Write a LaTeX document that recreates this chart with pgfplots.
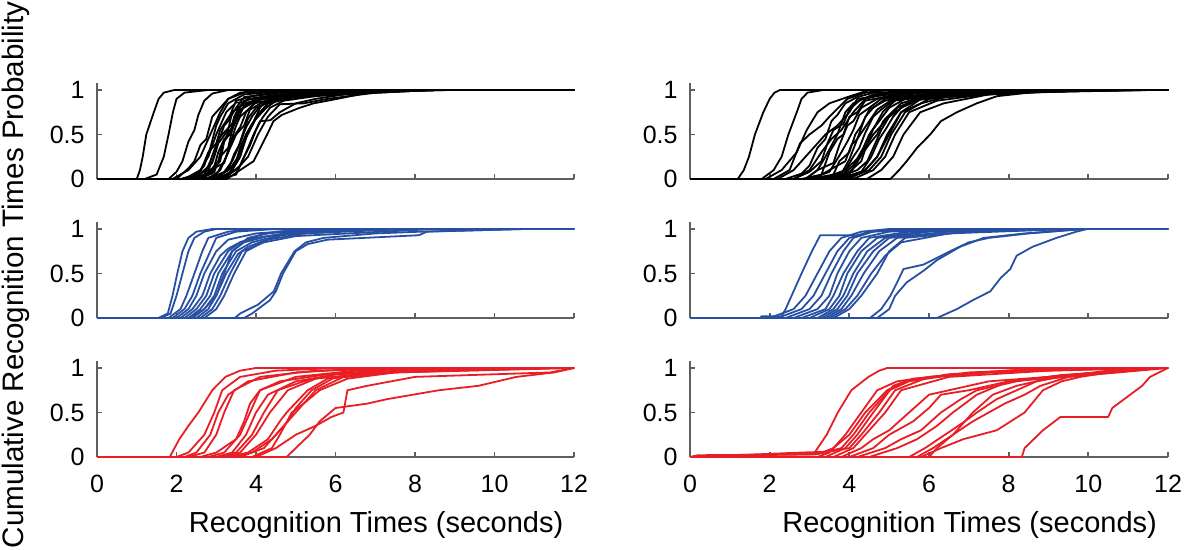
\documentclass[border=0pt]{standalone}
\usepackage{fontspec}
\setmainfont{Liberation Sans}
\setsansfont{Liberation Sans}
\usepackage{pgfplots}
\pgfplotsset{compat=1.18}

\definecolor{axgray}{RGB}{95,95,95}
\definecolor{cblue}{RGB}{40,80,162}
\definecolor{cred}{RGB}{232,30,36}

\tikzset{
  cb/.style={draw=black,line width=0.9pt,line join=round},
  cl/.style={draw=cblue,line width=0.9pt,line join=round},
  cr/.style={draw=cred,line width=0.9pt,line join=round},
}
\pgfplotsset{
  panel/.style={
    scale only axis, height=48.06pt, anchor=south west,
    xmin=0, xmax=12, ymin=0, ymax=1.08,
    axis x line=bottom, axis y line=left,
    axis line style={-, draw=axgray, line width=0.9pt},
    xtick={0,2,...,12}, ytick={0,0.5,1},
    tick align=inside, major tick length=2.6pt,
    tick style={draw=axgray, line width=0.9pt},
    ticklabel style={font=\fontsize{12.5}{15}\selectfont, text=black},
    /pgf/number format/assume math mode=true,
    xticklabel shift=5.5pt, yticklabel shift=2.7pt,
    clip=false,
  },
  lft/.style={panel, width=238.5pt},
  rgt/.style={panel, width=239pt},
  noxl/.style={xticklabels={}},
  xl/.style={xlabel={Recognition Times (seconds)},
    xlabel style={at={(axis description cs:0.585,0)}, anchor=center, yshift=-34pt,
      font=\fontsize{14.5}{17}\selectfont}},
}

\begin{document}
\begin{tikzpicture}
\useasboundingbox (0,0) rectangle (596.5pt,275pt);

% top left: black
\begin{axis}[lft, noxl, at={(48.5pt,185.5pt)}]
\addplot[cb] coordinates {(0,0)(1.0,0)(1.08,.1)(1.15,.25)(1.24,.5)(1.43,.75)(1.55,.9)(1.68,.97)(1.95,1)(12,1)};
\addplot[cb] coordinates {(0,0)(1.2,0)(1.5,.05)(1.68,.25)(1.8,.5)(1.91,.75)(2.0,.9)(2.2,.97)(2.8,1)(12,1)};
\addplot[cb] coordinates {(0,0)(1.8,0)(2.0,.08)(2.15,.2)(2.3,.42)(2.45,.55)(2.55,.72)(2.7,.88)(2.9,.96)(3.3,1)(12,1)};
\addplot[cb] coordinates {(0,0)(2.0,0)(2.3,.12)(2.45,.2)(2.6,.38)(2.75,.45)(2.9,.7)(3.1,.8)(3.3,.9)(3.6,.97)(4.2,1)(12,1)};
\addplot[cb] coordinates {(0,0)(2.1,0)(2.5,.05)(2.7,.15)(2.85,.35)(3.0,.6)(3.1,.7)(3.3,.85)(3.7,.95)(5.0,1)(12,1)};
\addplot[cb] coordinates {(0,0)(2.2,0)(2.6,.08)(2.8,.3)(3.0,.4)(3.1,.55)(3.35,.72)(3.5,.88)(3.9,.93)(4.6,.97)(5.5,1)(12,1)};
\addplot[cb] coordinates {(0,0)(2.3,0)(2.7,.05)(2.85,.2)(3.05,.45)(3.15,.5)(3.4,.62)(3.55,.8)(3.8,.86)(4.4,.92)(6.0,1)(12,1)};
\addplot[cb] coordinates {(0,0)(2.3,0)(2.8,.1)(2.95,.25)(3.05,.4)(3.3,.55)(3.4,.75)(3.6,.82)(3.8,.9)(4.9,.97)(6.5,1)(12,1)};
\addplot[cb] coordinates {(0,0)(2.4,0)(2.9,.06)(3.05,.3)(3.2,.45)(3.35,.5)(3.45,.7)(3.7,.88)(4.4,.94)(7.0,1)(12,1)};
\addplot[cb] coordinates {(0,0)(2.5,0)(2.65,.08)(2.9,.18)(3.0,.35)(3.2,.6)(3.3,.65)(3.5,.8)(3.7,.92)(4.5,.97)(5.8,1)(12,1)};
\addplot[cb] coordinates {(0,0)(2.5,0)(2.8,.05)(3.1,.2)(3.2,.42)(3.4,.55)(3.5,.72)(3.8,.85)(4.2,.9)(5.3,.97)(6.2,1)(12,1)};
\addplot[cb] coordinates {(0,0)(2.6,0)(2.9,.12)(3.05,.2)(3.15,.38)(3.3,.52)(3.55,.68)(3.7,.82)(4.0,.9)(4.8,.96)(7.4,1)(12,1)};
\addplot[cb] coordinates {(0,0)(2.6,0)(2.95,.08)(3.1,.25)(3.3,.35)(3.4,.55)(3.6,.78)(3.9,.85)(4.3,.93)(5.5,.97)(7.8,1)(12,1)};
\addplot[cb] coordinates {(0,0)(2.7,0)(2.85,.1)(3.2,.18)(3.35,.4)(3.5,.6)(3.6,.7)(3.85,.8)(4.1,.9)(5.2,.97)(6.8,1)(12,1)};
\addplot[cb] coordinates {(0,0)(2.7,0)(3.0,.05)(3.2,.2)(3.4,.4)(3.5,.5)(3.7,.6)(3.85,.78)(4.2,.87)(4.8,.93)(8.2,1)(12,1)};
\addplot[cb] coordinates {(0,0)(2.8,0)(3.1,.1)(3.3,.3)(3.4,.45)(3.6,.58)(3.75,.75)(3.95,.85)(4.5,.9)(5.5,.97)(8.6,1)(12,1)};
\addplot[cb] coordinates {(0,0)(2.8,0)(3.2,.08)(3.4,.2)(3.55,.35)(3.7,.55)(3.8,.68)(4.0,.8)(4.6,.91)(7.2,1)(12,1)};
\addplot[cb] coordinates {(0,0)(2.9,0)(3.3,.1)(3.45,.28)(3.6,.4)(3.75,.58)(3.9,.7)(4.1,.82)(4.5,.9)(5.6,.97)(8.9,1)(12,1)};
\addplot[cb] coordinates {(0,0)(3.0,0)(3.3,.05)(3.5,.2)(3.6,.35)(3.75,.5)(3.95,.65)(4.1,.8)(4.3,.9)(5.3,.97)(6.6,1)(12,1)};
\addplot[cb] coordinates {(0,0)(3.0,0)(3.35,.12)(3.55,.25)(3.7,.42)(3.85,.55)(4.0,.68)(4.2,.78)(4.5,.88)(5.0,.95)(7.6,1)(12,1)};
\addplot[cb] coordinates {(0,0)(3.1,0)(3.4,.1)(3.6,.25)(3.75,.5)(3.9,.62)(4.05,.7)(4.3,.82)(4.6,.9)(6.0,1)(12,1)};
\addplot[cb] coordinates {(0,0)(3.1,0)(3.5,.05)(3.65,.2)(3.85,.38)(4.0,.55)(4.15,.68)(4.35,.8)(4.7,.88)(5.8,.95)(8.0,1)(12,1)};
\addplot[cb] coordinates {(0,0)(3.2,0)(3.4,.1)(3.6,.25)(3.78,.5)(4.0,.7)(4.3,.85)(5.0,.92)(8.4,1)(12,1)};
\addplot[cb] coordinates {(0,0)(3.2,0)(3.6,.15)(3.8,.35)(3.94,.5)(4.1,.65)(4.36,.66)(4.6,.75)(5.0,.85)(5.5,.9)(6.5,.97)(8.8,1)(12,1)};
\addplot[cb] coordinates {(0,0)(3.27,0)(3.6,.1)(3.94,.2)(4.28,.5)(4.44,.65)(4.65,.72)(5.1,.8)(5.45,.85)(6.04,.9)(6.7,.96)(7.55,1)(12,1)};
\addplot[cb] coordinates {(0,0)(3.0,0)(3.5,.1)(3.8,.25)(4.05,.5)(4.3,.7)(4.6,.84)(5.2,.85)(5.8,.9)(7.0,.97)(8.5,1)(12,1)};
\addplot[cb] coordinates {(0,0)(2.2,0)(2.6,.1)(2.8,.25)(3.0,.5)(3.25,.75)(3.5,.86)(4.2,.86)(4.7,.93)(6.8,1)(12,1)};
\addplot[cb] coordinates {(0,0)(1.9,0)(2.3,.1)(2.6,.25)(2.85,.5)(3.1,.75)(3.3,.9)(3.7,.97)(4.8,1)(12,1)};
\end{axis}

% top right: black
\begin{axis}[rgt, noxl, at={(345pt,185.5pt)}]
\addplot[cb] coordinates {(0,0)(1.2,0)(1.35,.1)(1.48,.25)(1.63,.5)(1.84,.75)(2.0,.9)(2.12,.97)(2.26,1)(12,1)};
\addplot[cb] coordinates {(0,0)(1.8,0)(2.1,.1)(2.3,.25)(2.47,.5)(2.68,.75)(2.8,.9)(2.95,.97)(3.35,1)(12,1)};
\addplot[cb] coordinates {(0,0)(1.9,0)(2.3,.1)(2.68,.3)(2.93,.55)(3.2,.75)(3.5,.85)(3.95,.92)(4.5,1)(12,1)};
\addplot[cb] coordinates {(0,0)(2.1,0)(2.5,.1)(2.76,.4)(3.0,.5)(3.3,.6)(3.5,.7)(3.95,.9)(4.4,.97)(5.0,1)(12,1)};
\addplot[cb] coordinates {(0,0)(2.4,0)(2.8,.06)(3.0,.15)(3.2,.35)(3.4,.45)(3.55,.65)(3.7,.72)(3.9,.85)(4.2,.92)(4.6,.97)(6.5,1)(12,1)};
\addplot[cb] coordinates {(0,0)(2.6,0)(3.0,.08)(3.3,.2)(3.45,.4)(3.6,.55)(3.85,.62)(4.0,.78)(4.3,.9)(5.0,.97)(7.0,1)(12,1)};
\addplot[cb] coordinates {(0,0)(2.8,0)(3.3,.05)(3.5,.3)(3.7,.45)(3.85,.5)(4.0,.7)(4.2,.75)(4.4,.88)(5.3,.96)(7.5,1)(12,1)};
\addplot[cb] coordinates {(0,0)(2.9,0)(3.2,.1)(3.6,.18)(3.75,.38)(3.95,.6)(4.1,.65)(4.3,.8)(4.7,.9)(5.5,.97)(8.0,1)(12,1)};
\addplot[cb] coordinates {(0,0)(3.0,0)(3.5,.08)(3.8,.3)(3.95,.42)(4.1,.55)(4.25,.72)(4.5,.8)(4.8,.9)(5.8,.97)(8.5,1)(12,1)};
\addplot[cb] coordinates {(0,0)(3.0,0)(3.6,.05)(3.75,.2)(4.0,.3)(4.15,.5)(4.3,.6)(4.5,.78)(4.9,.88)(6.0,.96)(9.0,1)(12,1)};
\addplot[cb] coordinates {(0,0)(3.1,0)(3.5,.1)(3.9,.2)(4.05,.38)(4.2,.45)(4.4,.7)(4.6,.8)(4.9,.9)(6.2,.97)(9.5,1)(12,1)};
\addplot[cb] coordinates {(0,0)(3.2,0)(3.8,.06)(4.0,.22)(4.2,.45)(4.35,.55)(4.5,.65)(4.7,.78)(5.1,.9)(6.5,.97)(10.0,1)(12,1)};
\addplot[cb] coordinates {(0,0)(3.3,0)(3.9,.1)(4.1,.25)(4.25,.35)(4.4,.52)(4.6,.7)(4.8,.78)(5.1,.88)(6.8,.97)(10.5,1)(12,1)};
\addplot[cb] coordinates {(0,0)(3.3,0)(3.8,.04)(4.1,.15)(4.35,.35)(4.5,.5)(4.65,.6)(4.85,.76)(5.2,.9)(7.0,.97)(11.0,1)(12,1)};
\addplot[cb] coordinates {(0,0)(3.4,0)(4.0,.08)(4.3,.2)(4.45,.4)(4.6,.56)(4.8,.68)(5.0,.8)(5.4,.9)(7.2,.97)(11.5,1)(12,1)};
\addplot[cb] coordinates {(0,0)(3.5,0)(4.0,.05)(4.35,.3)(4.55,.42)(4.7,.5)(4.85,.65)(5.0,.72)(5.3,.85)(5.8,.92)(7.5,.97)(10.8,1)(12,1)};
\addplot[cb] coordinates {(0,0)(3.6,0)(4.2,.1)(4.45,.2)(4.6,.35)(4.8,.55)(5.0,.7)(5.2,.8)(5.6,.88)(6.8,.95)(9.8,1)(12,1)};
\addplot[cb] coordinates {(0,0)(3.7,0)(4.3,.08)(4.55,.25)(4.75,.45)(4.9,.55)(5.1,.7)(5.3,.8)(5.7,.9)(7.8,.97)(11.2,1)(12,1)};
\addplot[cb] coordinates {(0,0)(3.8,0)(4.4,.1)(4.7,.25)(4.95,.5)(5.3,.75)(5.8,.9)(8.0,.97)(11.6,1)(12,1)};
\addplot[cb] coordinates {(0,0)(3.9,0)(4.5,.1)(4.8,.25)(5.05,.5)(5.4,.75)(6.0,.9)(7.6,.97)(10.4,1)(12,1)};
\addplot[cb] coordinates {(0,0)(4.1,0)(4.6,.1)(4.9,.25)(5.15,.5)(5.5,.75)(6.2,.88)(7.4,.95)(9.4,1)(12,1)};
\addplot[cb] coordinates {(0,0)(4.44,0)(4.8,.1)(5.1,.25)(5.36,.5)(5.78,.75)(6.37,.85)(7.5,.95)(8.8,1)(12,1)};
\addplot[cb] coordinates {(0,0)(5.03,0)(5.25,.1)(5.44,.2)(5.7,.35)(6.03,.5)(6.3,.65)(6.7,.75)(7.2,.85)(7.7,.93)(8.7,.98)(9.2,.99)(11.6,1)(12,1)};
\addplot[cb] coordinates {(0,0)(2.6,0)(3.0,.1)(3.3,.3)(3.55,.45)(3.8,.55)(4.1,.75)(4.4,.9)(5.0,.97)(6.0,1)(12,1)};
\addplot[cb] coordinates {(0,0)(2.9,0)(3.2,.1)(3.4,.25)(3.7,.5)(3.9,.75)(4.1,.85)(4.6,.95)(5.5,1)(12,1)};
\addplot[cb] coordinates {(0,0)(3.5,0)(3.9,.1)(4.25,.25)(4.6,.5)(5.0,.7)(5.3,.8)(5.8,.9)(7.2,.97)(9.6,1)(12,1)};
\addplot[cb] coordinates {(0,0)(4.0,0)(4.4,.1)(4.7,.25)(5.0,.5)(5.3,.75)(5.8,.85)(6.5,.93)(10.2,1)(12,1)};
\addplot[cb] coordinates {(0,0)(2.2,0)(2.6,.1)(2.9,.25)(3.4,.5)(3.7,.6)(4.0,.75)(4.2,.9)(5.8,1)(12,1)};
\end{axis}

% middle left: blue
\begin{axis}[lft, noxl, at={(48.5pt,116pt)}]
\addplot[cl] coordinates {(0,0)(1.54,0)(1.78,.05)(1.9,.25)(2.02,.5)(2.15,.75)(2.3,.9)(2.5,.97)(2.9,1)(12,1)};
\addplot[cl] coordinates {(0,0)(1.6,0)(1.85,.05)(2.0,.25)(2.15,.5)(2.3,.75)(2.45,.9)(2.7,.97)(3.0,1)(12,1)};
\addplot[cl] coordinates {(0,0)(1.8,0)(2.1,.1)(2.25,.25)(2.45,.5)(2.65,.75)(2.8,.9)(3.3,.97)(4.0,1)(12,1)};
\addplot[cl] coordinates {(0,0)(1.9,0)(2.2,.1)(2.4,.25)(2.6,.5)(2.85,.75)(3.0,.9)(3.5,.97)(4.5,1)(12,1)};
\addplot[cl] coordinates {(0,0)(2.0,0)(2.3,.1)(2.5,.25)(2.7,.5)(3.0,.75)(3.3,.88)(4.0,.95)(5.5,1)(12,1)};
\addplot[cl] coordinates {(0,0)(2.1,0)(2.4,.1)(2.65,.25)(2.85,.5)(3.1,.7)(3.3,.78)(3.6,.85)(4.2,.95)(6.0,1)(12,1)};
\addplot[cl] coordinates {(0,0)(2.2,0)(2.5,.1)(2.75,.25)(2.95,.5)(3.3,.75)(3.6,.85)(4.0,.9)(5.0,.97)(7.5,1)(12,1)};
\addplot[cl] coordinates {(0,0)(2.3,0)(2.6,.1)(2.85,.25)(3.05,.5)(3.4,.75)(3.7,.85)(4.3,.92)(5.3,.97)(6.5,1)(12,1)};
\addplot[cl] coordinates {(0,0)(2.4,0)(2.7,.1)(2.95,.25)(3.15,.5)(3.5,.75)(3.9,.85)(4.6,.93)(7.0,1)(12,1)};
\addplot[cl] coordinates {(0,0)(2.5,0)(2.8,.1)(3.0,.25)(3.25,.5)(3.55,.72)(3.8,.8)(4.4,.9)(5.0,.97)(8.0,1)(12,1)};
\addplot[cl] coordinates {(0,0)(2.6,0)(2.9,.1)(3.1,.25)(3.35,.5)(3.65,.75)(4.2,.85)(5.0,.92)(8.5,1)(12,1)};
\addplot[cl] coordinates {(0,0)(2.7,0)(3.0,.1)(3.2,.25)(3.45,.5)(3.75,.75)(4.3,.88)(5.2,.95)(7.8,1)(12,1)};
\addplot[cl] coordinates {(0,0)(2.3,0)(2.7,.1)(3.0,.25)(3.2,.5)(3.4,.75)(3.8,.9)(4.5,.97)(5.5,1)(12,1)};
\addplot[cl] coordinates {(0,0)(3.47,0)(3.6,.05)(4.05,.15)(4.45,.3)(4.63,.5)(4.97,.75)(5.26,.85)(5.7,.9)(7.0,.95)(8.15,.97)(10.8,1)(12,1)};
\addplot[cl] coordinates {(0,0)(3.7,0)(3.9,.05)(4.35,.2)(4.5,.3)(4.68,.5)(5.0,.75)(5.3,.83)(5.8,.88)(8.1,.93)(8.3,.97)(10.7,1)(12,1)};
\end{axis}

% middle right: blue
\begin{axis}[rgt, noxl, at={(345pt,116pt)}]
\addplot[cl] coordinates {(0,0)(1.76,0)(1.8,.02)(2.3,.02)(2.4,.1)(2.6,.3)(2.8,.5)(3.06,.75)(3.27,.93)(4.27,.93)(4.5,.97)(5.2,1)(12,1)};
\addplot[cl] coordinates {(0,0)(2.0,0)(2.6,.1)(2.9,.25)(3.2,.5)(3.5,.75)(3.8,.9)(4.3,.97)(5.0,1)(12,1)};
\addplot[cl] coordinates {(0,0)(2.2,0)(2.8,.1)(3.1,.25)(3.4,.5)(3.7,.75)(4.0,.9)(4.5,.97)(5.6,1)(12,1)};
\addplot[cl] coordinates {(0,0)(2.4,0)(3.0,.1)(3.3,.25)(3.55,.5)(3.85,.75)(4.1,.9)(4.6,.97)(6.0,1)(12,1)};
\addplot[cl] coordinates {(0,0)(2.6,0)(3.2,.1)(3.5,.25)(3.7,.5)(4.0,.75)(4.3,.9)(5.0,.97)(6.5,1)(12,1)};
\addplot[cl] coordinates {(0,0)(2.8,0)(3.4,.1)(3.6,.25)(3.85,.5)(4.2,.75)(4.5,.9)(5.5,.97)(7.0,1)(12,1)};
\addplot[cl] coordinates {(0,0)(3.0,0)(3.5,.1)(3.75,.25)(3.95,.5)(4.3,.75)(4.7,.9)(5.8,.97)(7.5,1)(12,1)};
\addplot[cl] coordinates {(0,0)(3.2,0)(3.6,.1)(3.85,.25)(4.1,.5)(4.45,.75)(4.9,.9)(6.0,.97)(8.0,1)(12,1)};
\addplot[cl] coordinates {(0,0)(3.3,0)(3.7,.1)(3.95,.25)(4.2,.5)(4.6,.75)(5.0,.9)(6.5,.97)(8.5,1)(12,1)};
\addplot[cl] coordinates {(0,0)(3.4,0)(3.8,.1)(4.05,.25)(4.36,.5)(4.75,.75)(5.2,.9)(7.0,.97)(9.0,1)(12,1)};
\addplot[cl] coordinates {(0,0)(3.5,0)(3.9,.1)(4.2,.25)(4.55,.5)(4.9,.7)(5.3,.85)(6.5,.95)(9.5,1)(12,1)};
\addplot[cl] coordinates {(0,0)(3.6,0)(4.0,.1)(4.3,.25)(4.7,.5)(5.0,.75)(5.4,.9)(7.0,.97)(9.7,1)(12,1)};
\addplot[cl] coordinates {(0,0)(4.52,0)(4.8,.1)(5.03,.25)(5.2,.4)(5.36,.55)(5.86,.6)(6.53,.75)(7.0,.85)(7.5,.9)(8.5,.95)(9.9,1)(12,1)};
\addplot[cl] coordinates {(0,0)(4.7,0)(5.0,.1)(5.15,.25)(5.44,.4)(5.86,.53)(6.2,.65)(6.78,.8)(7.37,.9)(8.4,.95)(9.9,1)(12,1)};
\addplot[cl] coordinates {(0,0)(6.2,0)(6.7,.1)(7.1,.2)(7.54,.3)(7.8,.45)(8.04,.55)(8.2,.7)(8.6,.8)(9.2,.9)(9.7,.97)(9.97,1)(12,1)};
\end{axis}

% bottom left: red
\begin{axis}[lft, xl, at={(48.5pt,46.5pt)}]
\addplot[cr] coordinates {(0,0)(1.83,0)(1.95,.1)(2.07,.2)(2.3,.35)(2.55,.5)(2.9,.75)(3.23,.9)(3.6,.97)(4.0,1)(12,1)};
\addplot[cr] coordinates {(0,0)(2.0,0)(2.3,.05)(2.7,.25)(2.95,.5)(3.15,.75)(3.6,.9)(4.5,.97)(6.0,1)(12,1)};
\addplot[cr] coordinates {(0,0)(2.2,0)(2.5,.05)(2.85,.25)(3.05,.5)(3.3,.7)(3.8,.85)(5.0,.95)(7.0,1)(12,1)};
\addplot[cr] coordinates {(0,0)(2.3,0)(2.7,.05)(3.0,.25)(3.2,.5)(3.45,.75)(4.1,.9)(5.5,.97)(8.0,1)(12,1)};
\addplot[cr] coordinates {(0,0)(2.6,0)(3.0,.05)(3.5,.2)(3.7,.4)(3.85,.6)(4.1,.75)(5.0,.9)(6.5,.97)(9.0,1)(12,1)};
\addplot[cr] coordinates {(0,0)(2.8,0)(3.2,.05)(3.6,.25)(3.85,.5)(4.1,.75)(4.6,.85)(5.8,.93)(9.5,1)(12,1)};
\addplot[cr] coordinates {(0,0)(3.0,0)(3.4,.05)(3.75,.25)(4.0,.5)(4.3,.7)(5.0,.85)(6.3,.95)(10.0,1)(12,1)};
\addplot[cr] coordinates {(0,0)(3.0,0)(3.5,.05)(3.9,.25)(4.2,.5)(4.55,.75)(5.2,.85)(6.0,.93)(10.5,1)(12,1)};
\addplot[cr] coordinates {(0,0)(3.2,0)(3.6,.05)(4.0,.25)(4.35,.5)(4.8,.75)(5.5,.88)(7.0,.95)(11.0,1)(12,1)};
\addplot[cr] coordinates {(0,0)(3.3,0)(3.8,.05)(4.3,.2)(4.6,.4)(4.77,.5)(5.3,.75)(5.8,.88)(7.5,.95)(11.5,1)(12,1)};
\addplot[cr] coordinates {(0,0)(3.4,0)(3.9,.05)(4.4,.2)(4.8,.4)(5.0,.55)(5.4,.75)(6.0,.9)(8.0,.97)(11.8,1)(12,1)};
\addplot[cr] coordinates {(0,0)(3.6,0)(4.2,.1)(4.5,.25)(4.8,.4)(5.0,.5)(5.5,.75)(6.2,.9)(7.0,.95)(9.0,1)(12,1)};
\addplot[cr] coordinates {(0,0)(3.9,0)(4.4,.1)(4.6,.25)(4.9,.5)(5.2,.6)(5.6,.75)(6.3,.88)(7.5,.95)(12,1)};
\addplot[cr] coordinates {(0,0)(4.77,0)(5.0,.1)(5.35,.25)(5.6,.4)(6.0,.55)(6.8,.6)(7.3,.65)(8.6,.75)(9.6,.8)(10.55,.9)(11.5,.95)(12,1)};
\addplot[cr] coordinates {(0,0)(4.0,0)(4.5,.1)(5.0,.25)(5.5,.35)(5.9,.45)(6.2,.5)(6.3,.75)(6.8,.8)(8.0,.9)(11.4,.95)(12,1)};
\end{axis}

% bottom right: red
\begin{axis}[rgt, xl, at={(345pt,46.5pt)}]
\addplot[cr] coordinates {(0,0)(0.2,.02)(3.1,.03)(3.43,.25)(3.71,.5)(4.05,.75)(4.48,.9)(4.75,.97)(4.95,1)(12,1)};
\addplot[cr] coordinates {(0,0)(1.5,.02)(3.2,.03)(3.6,.1)(4.0,.25)(4.4,.5)(4.95,.75)(5.4,.85)(6.5,.93)(9.0,1)(12,1)};
\addplot[cr] coordinates {(0,0)(2.4,.03)(3.3,.04)(3.8,.1)(4.1,.25)(4.5,.5)(5.0,.75)(5.5,.85)(7.0,.95)(10.0,1)(12,1)};
\addplot[cr] coordinates {(0,0)(3.4,0)(3.9,.1)(4.2,.25)(4.6,.5)(5.1,.8)(5.6,.88)(7.5,.95)(11.0,1)(12,1)};
\addplot[cr] coordinates {(0,0)(2.8,.05)(3.5,.06)(4.0,.1)(4.3,.25)(4.75,.5)(5.15,.75)(6.0,.9)(8.0,.97)(11.5,1)(12,1)};
\addplot[cr] coordinates {(0,0)(3.6,0)(4.1,.1)(4.4,.25)(4.9,.5)(5.3,.75)(6.5,.9)(9.0,.97)(11.8,1)(12,1)};
\addplot[cr] coordinates {(0,0)(3.8,0)(4.3,.1)(4.6,.2)(5.0,.3)(5.5,.5)(6.0,.7)(6.5,.75)(7.5,.85)(9.0,.9)(11.5,1)(12,1)};
\addplot[cr] coordinates {(0,0)(4.0,0)(4.6,.1)(5.0,.25)(5.6,.4)(6.0,.55)(6.3,.7)(7.0,.75)(8.0,.85)(9.5,.9)(12,1)};
\addplot[cr] coordinates {(0,0)(4.2,0)(4.9,.1)(5.3,.2)(5.8,.3)(6.3,.5)(6.8,.65)(7.2,.75)(8.2,.85)(9.3,.92)(11.8,1)(12,1)};
\addplot[cr] coordinates {(0,0)(4.5,0)(5.2,.1)(5.7,.2)(6.2,.35)(6.6,.5)(7.2,.7)(8.0,.85)(9.0,.9)(11.5,1)(12,1)};
\addplot[cr] coordinates {(0,0)(5.5,0)(5.9,.1)(6.4,.25)(6.9,.4)(7.2,.5)(7.7,.65)(8.2,.75)(8.7,.85)(9.3,.9)(11.0,1)(12,1)};
\addplot[cr] coordinates {(0,0)(5.7,0)(6.1,.1)(6.6,.25)(7.1,.4)(7.5,.5)(7.9,.6)(8.4,.7)(8.8,.8)(9.5,.9)(10.5,.95)(11.6,1)(12,1)};
\addplot[cr] coordinates {(0,0)(5.8,0)(6.3,.1)(6.86,.2)(7.7,.3)(8.4,.5)(8.86,.75)(9.33,.85)(9.8,.9)(11.2,1)(12,1)};
\addplot[cr] coordinates {(0,0)(8.33,0)(8.4,.1)(8.86,.3)(9.3,.45)(10.5,.45)(10.6,.55)(11.05,.7)(11.35,.8)(11.55,.9)(12,1)};
\addplot[cr] coordinates {(0,0)(3.2,0)(3.5,.05)(3.9,.25)(4.3,.5)(4.7,.75)(5.2,.85)(6.0,.9)(7.5,.95)(10.5,1)(12,1)};
\addplot[cr] coordinates {(0,0)(6.0,0)(6.2,.1)(6.6,.25)(7.1,.5)(7.6,.7)(8.2,.8)(9.2,.9)(10.5,.95)(11.8,1)(12,1)};
\end{axis}

\node[rotate=90, font=\fontsize{14.8}{17}\selectfont] at (8pt,137.5pt) {Cumulative Recognition Times Probability};
\end{tikzpicture}
\end{document}
